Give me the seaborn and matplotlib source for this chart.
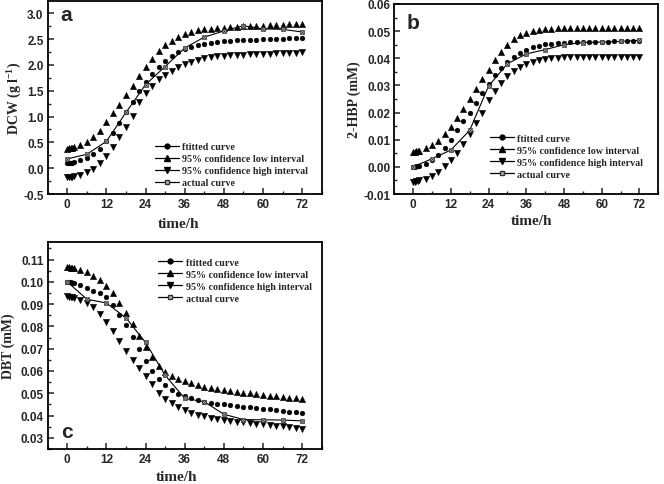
import numpy as np
import pandas as pd
import seaborn as sns
import matplotlib
matplotlib.use("Agg")
import matplotlib.pyplot as plt
from matplotlib.lines import Line2D
from matplotlib.ticker import MultipleLocator

# ---------------- data ----------------
time_fit = [0, 0.5, 1, 1.5, 2, 4, 6, 8, 10, 12, 14, 16, 18, 20, 22, 24, 26, 28, 30, 32,
            34, 36, 38, 40, 42, 44, 46, 48, 50, 52, 54, 56, 58, 60, 62, 64, 66, 68, 70, 72]
time_actual = [0, 6, 12, 18, 24, 30, 36, 42, 48, 54, 60, 66, 72]

# panel a: DCW (g l-1)
dcw_fitted = [0.10, 0.10, 0.11, 0.11, 0.12, 0.15, 0.20, 0.28, 0.38, 0.52, 0.69, 0.88, 1.08, 1.29,
              1.49, 1.68, 1.83, 1.97, 2.08, 2.18, 2.26, 2.31, 2.35, 2.38, 2.41, 2.43, 2.45, 2.46,
              2.47, 2.48, 2.48, 2.49, 2.49, 2.50, 2.50, 2.51, 2.51, 2.52, 2.52, 2.53]
dcw_low = [0.38, 0.39, 0.40, 0.40, 0.41, 0.45, 0.51, 0.60, 0.73, 0.89, 1.06, 1.23, 1.41, 1.60,
           1.79, 1.96, 2.12, 2.27, 2.38, 2.47, 2.55, 2.61, 2.64, 2.67, 2.69, 2.70, 2.71, 2.72,
           2.73, 2.74, 2.75, 2.75, 2.76, 2.76, 2.77, 2.77, 2.78, 2.79, 2.79, 2.80]
dcw_high = [-0.18, -0.18, -0.17, -0.17, -0.16, -0.13, -0.08, -0.01, 0.10, 0.24, 0.41, 0.60, 0.80,
            1.02, 1.28, 1.45, 1.60, 1.72, 1.81, 1.89, 1.96, 2.01, 2.06, 2.10, 2.13, 2.15, 2.17,
            2.18, 2.19, 2.20, 2.20, 2.21, 2.21, 2.22, 2.22, 2.23, 2.23, 2.24, 2.24, 2.25]
dcw_actual = [0.18, 0.27, 0.52, 1.08, 1.62, 1.97, 2.33, 2.54, 2.66, 2.76, 2.70, 2.69, 2.64]

# panel b: 2-HBP (mM)
hbp_fitted = [0.0000, 0.0001, 0.0002, 0.0003, 0.0004, 0.0012, 0.0024, 0.0042, 0.0068, 0.0100,
              0.0134, 0.0168, 0.0200, 0.0236, 0.0273, 0.0307, 0.0338, 0.0365, 0.0388, 0.0406,
              0.0420, 0.0431, 0.0440, 0.0446, 0.0451, 0.0454, 0.0456, 0.0458, 0.0459, 0.0460,
              0.0460, 0.0461, 0.0461, 0.0461, 0.0461, 0.0462, 0.0462, 0.0462, 0.0462, 0.0462]
hbp_low = [0.0055, 0.0056, 0.0057, 0.0058, 0.0060, 0.0068, 0.0080, 0.0097, 0.0120, 0.0148,
           0.0180, 0.0215, 0.0250, 0.0287, 0.0323, 0.0358, 0.0392, 0.0425, 0.0450, 0.0470,
           0.0484, 0.0494, 0.0500, 0.0504, 0.0507, 0.0509, 0.0510, 0.0511, 0.0511, 0.0511,
           0.0512, 0.0512, 0.0512, 0.0512, 0.0512, 0.0513, 0.0513, 0.0513, 0.0513, 0.0513]
hbp_high = [-0.0055, -0.0054, -0.0053, -0.0052, -0.0050, -0.0043, -0.0032, -0.0018, 0.0002,
            0.0025, 0.0052, 0.0085, 0.0120, 0.0160, 0.0200, 0.0245, 0.0280, 0.0310, 0.0333,
            0.0352, 0.0367, 0.0378, 0.0387, 0.0393, 0.0397, 0.0400, 0.0402, 0.0403, 0.0404,
            0.0404, 0.0405, 0.0405, 0.0405, 0.0405, 0.0405, 0.0406, 0.0406, 0.0406, 0.0406, 0.0406]
hbp_actual = [0.0000, 0.0030, 0.0062, 0.0135, 0.0298, 0.0380, 0.0416, 0.0432, 0.0450, 0.0458,
              0.0460, 0.0462, 0.0466]

# panel c: DBT (mM)
dbt_fitted = [0.1000, 0.0999, 0.0998, 0.0996, 0.0994, 0.0985, 0.0973, 0.0960, 0.0948, 0.0930,
              0.0895, 0.0850, 0.0805, 0.0752, 0.0697, 0.0645, 0.0600, 0.0562, 0.0535, 0.0514,
              0.0498, 0.0486, 0.0477, 0.0469, 0.0463, 0.0458, 0.0454, 0.0450, 0.0446, 0.0443,
              0.0440, 0.0437, 0.0434, 0.0431, 0.0428, 0.0425, 0.0422, 0.0418, 0.0414, 0.0410]
dbt_low = [0.1067, 0.1066, 0.1064, 0.1062, 0.1060, 0.1052, 0.1042, 0.1028, 0.1008, 0.0982,
           0.0948, 0.0906, 0.0860, 0.0810, 0.0757, 0.0707, 0.0662, 0.0624, 0.0597, 0.0577,
           0.0563, 0.0553, 0.0544, 0.0536, 0.0529, 0.0523, 0.0518, 0.0513, 0.0509, 0.0505,
           0.0502, 0.0499, 0.0496, 0.0493, 0.0490, 0.0487, 0.0484, 0.0481, 0.0477, 0.0473]
dbt_high = [0.0935, 0.0934, 0.0933, 0.0931, 0.0929, 0.0920, 0.0905, 0.0885, 0.0855, 0.0818,
            0.0778, 0.0733, 0.0690, 0.0650, 0.0613, 0.0578, 0.0540, 0.0503, 0.0475, 0.0455,
            0.0438, 0.0424, 0.0413, 0.0404, 0.0396, 0.0390, 0.0384, 0.0379, 0.0375, 0.0372,
            0.0369, 0.0366, 0.0363, 0.0360, 0.0357, 0.0354, 0.0351, 0.0347, 0.0343, 0.0340]
dbt_actual = [0.1000, 0.0922, 0.0905, 0.0838, 0.0728, 0.0581, 0.0477, 0.0462, 0.0406, 0.0382,
              0.0381, 0.0380, 0.0376]

legend_labels = ["ftitted curve", "95% confidence low interval",
                 "95% confidence high interval", "actual curve"]

# ---------------- style ----------------
sns.set_theme(style="ticks")
plt.rcParams.update({
    "font.family": ["Liberation Sans", "DejaVu Sans"],
    "font.weight": "bold",
    "mathtext.fontset": "custom",
    "mathtext.rm": "Liberation Serif:bold",
    "mathtext.it": "Liberation Serif:bold",
    "mathtext.bf": "Liberation Serif:bold",
    "mathtext.default": "rm",
    "xtick.direction": "in",
    "ytick.direction": "in",
    "axes.linewidth": 1.3,
    "xtick.major.width": 1.1,
    "ytick.major.width": 1.1,
    "xtick.minor.width": 1.0,
    "ytick.minor.width": 1.0,
    "xtick.major.size": 4,
    "ytick.major.size": 4,
    "xtick.minor.size": 2.2,
    "ytick.minor.size": 2.2,
    "axes.edgecolor": "black",
})

serif_bold = {"family": ["Liberation Serif", "DejaVu Serif"], "weight": "bold"}

fig = plt.figure(figsize=(6.64, 4.85), dpi=100)
W, H = 664, 485


def ax_at(left, top, right, bottom):
    return fig.add_axes([left / W, (H - bottom) / H, (right - left) / W, (bottom - top) / H])


ax_a = ax_at(47.7, 2, 321.7, 195)
ax_b = ax_at(394.3, 5, 658.3, 195)
ax_c = ax_at(47.7, 242.7, 321.7, 450)

panels = [
    (ax_a, dcw_fitted, dcw_low, dcw_high, dcw_actual, "DCW (g l$^{-1}$)", (-0.5, 3.24), 0.5, 0.25,
     "%.1f", "a", (0.045, 0.93), (0.39, 0.268), (-0.085, 0.5), (0.476, -0.118)),
    (ax_b, hbp_fitted, hbp_low, hbp_high, hbp_actual, "2-HBP (mM)", (-0.01, 0.06), 0.01, 0.005,
     "%.2f", "b", (0.045, 0.905), (0.362, 0.318), (-0.127, 0.5), (0.52, -0.104)),
    (ax_c, dbt_fitted, dbt_low, dbt_high, dbt_actual, "DBT (mM)", (0.025, 0.118), 0.01, 0.005,
     "%.2f", "c", (0.05, 0.085), (0.403, 0.922), (-0.12, 0.5), (0.47, -0.1)),
]

for (ax, fit, low, high, act, ylab, ylim, ymaj, ymin, yfmt, letter, letter_pos,
     leg_pos, ylab_pos, xlab_pos) in panels:
    sns.scatterplot(x=time_fit, y=low, ax=ax, marker="^", s=21, color="black",
                    edgecolor="black", linewidth=0.3, zorder=3)
    sns.scatterplot(x=time_fit, y=high, ax=ax, marker="v", s=21, color="black",
                    edgecolor="black", linewidth=0.3, zorder=3)
    sns.scatterplot(x=time_fit, y=fit, ax=ax, marker="o", s=12, color="black",
                    edgecolor="black", linewidth=0.3, zorder=3)
    sns.lineplot(x=time_actual, y=act, ax=ax, color="black", linewidth=0.8,
                 marker="s", markersize=3.4, markerfacecolor="#b8b8b8",
                 markeredgecolor="#333333", markeredgewidth=0.5, zorder=4)
    sns.scatterplot(x=time_actual, y=act, ax=ax, marker="x", s=6, color="#333333",
                    linewidth=0.5, zorder=5)

    ax.set_xlim(-6, 78)
    ax.set_ylim(*ylim)
    ax.xaxis.set_major_locator(MultipleLocator(12))
    ax.xaxis.set_minor_locator(MultipleLocator(6))
    ax.yaxis.set_major_locator(MultipleLocator(ymaj))
    ax.yaxis.set_minor_locator(MultipleLocator(ymin))
    ax.yaxis.set_major_formatter(matplotlib.ticker.FormatStrFormatter(yfmt))
    ax.tick_params(axis="both", which="both", top=False, right=False, labelsize=8.5, pad=3)
    for lbl in ax.get_xticklabels() + ax.get_yticklabels():
        lbl.set_fontweight("bold")
        lbl.set_family(["Liberation Sans", "DejaVu Sans"])
    for sp in ax.spines.values():
        sp.set_visible(True)
        sp.set_color("black")
        sp.set_linewidth(1.3)

    ax.set_xlabel("time/h", fontdict=dict(serif_bold, size=11))
    ax.set_ylabel(ylab, fontdict=dict(serif_bold, size=10))
    ax.yaxis.set_label_coords(*ylab_pos)
    ax.xaxis.set_label_coords(*xlab_pos)

    ax.text(letter_pos[0], letter_pos[1], letter, transform=ax.transAxes, fontsize=15,
            fontweight="bold", family=["Liberation Sans", "DejaVu Sans"], va="center", ha="left")

    handles = [
        Line2D([], [], color="black", lw=0.9, marker="o", markersize=3.5),
        Line2D([], [], color="black", lw=0.9, marker="^", markersize=4.4),
        Line2D([], [], color="black", lw=0.9, marker="v", markersize=4.4),
        Line2D([], [], color="black", lw=0.9, marker="s", markersize=3.4,
               markerfacecolor="#b8b8b8", markeredgecolor="#333333"),
    ]
    ax.legend(handles, legend_labels, loc="upper left", bbox_to_anchor=leg_pos,
              frameon=False, prop=dict(serif_bold, size=7.2), handlelength=2.4,
              handletextpad=0.35, labelspacing=0.3, borderpad=0, borderaxespad=0)

fig.savefig("out.png", dpi=100)
